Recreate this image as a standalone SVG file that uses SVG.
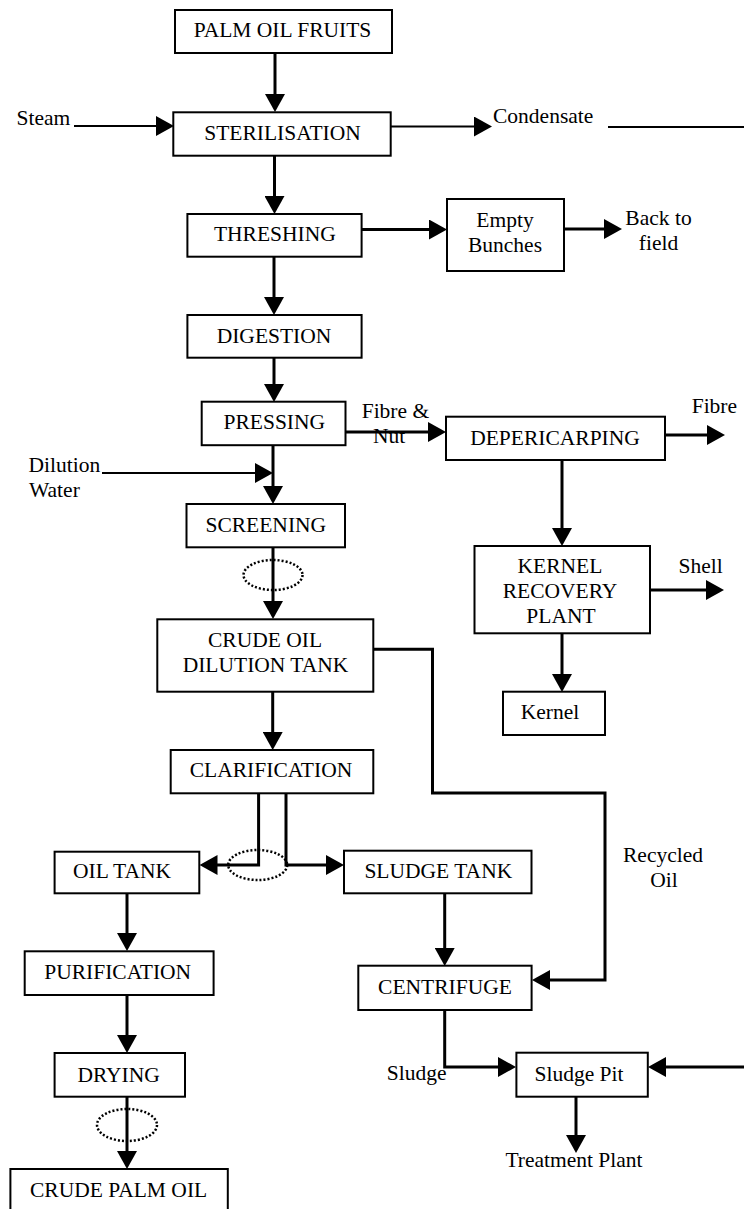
<svg xmlns="http://www.w3.org/2000/svg" width="744" height="1209" viewBox="0 0 744 1209">
<defs>
<marker id="ah" markerUnits="userSpaceOnUse" markerWidth="18" markerHeight="20" refX="14" refY="10" orient="auto">
<path d="M0,0 L18,10 L0,20 z" fill="#000"/>
</marker>
<style>
rect{fill:#fff;stroke:#000;stroke-width:2}
text{font-family:"Liberation Serif","Times New Roman",serif;font-size:21.5px;fill:#000}
.m{text-anchor:middle}
.c{fill:none;stroke:#000;stroke-width:3}
.t{fill:none;stroke:#000;stroke-width:2}
.a{marker-end:url(#ah)}
.d{fill:none;stroke:#000;stroke-width:2.5;stroke-dasharray:2 2}
</style>
</defs>
<rect x="0" y="0" width="744" height="1209" style="fill:#fff;stroke:none"/>
<g id="connectors">
<line class="c a" x1="275" y1="53" x2="275" y2="108"/>
<line class="t a" x1="74" y1="126" x2="170" y2="126"/>
<line class="t a" x1="391" y1="126.5" x2="488" y2="126.5"/>
<line class="t" x1="608" y1="127" x2="744" y2="127"/>
<line class="c a" x1="274.5" y1="156" x2="274.5" y2="210"/>
<line class="c a" x1="362" y1="229.5" x2="443" y2="229.5"/>
<line class="c a" x1="564" y1="229" x2="618" y2="229"/>
<line class="c a" x1="274" y1="257" x2="274" y2="311"/>
<line class="c a" x1="274" y1="358" x2="274" y2="398"/>
<line class="c a" x1="346" y1="432" x2="442" y2="432"/>
<line class="c a" x1="665" y1="435" x2="721" y2="435"/>
<line class="c a" x1="273" y1="445" x2="273" y2="500"/>
<line class="t a" x1="102" y1="473" x2="269" y2="473"/>
<line class="c a" x1="273" y1="547" x2="273" y2="615"/>
<line class="c a" x1="562" y1="460" x2="562" y2="542"/>
<line class="c a" x1="650" y1="590" x2="720" y2="590"/>
<line class="c a" x1="562" y1="633" x2="562" y2="688"/>
<line class="c a" x1="272.7" y1="692" x2="272.7" y2="746"/>
<polyline class="c a" points="373,649.3 432.5,649.3 432.5,793 605,793 605,980 536,980"/>
<polyline class="c a" points="258.6,793 258.6,865 203.5,865"/>
<polyline class="c a" points="286,793 286,865 340,865"/>
<ellipse class="d" cx="273" cy="575" rx="29.5" ry="15"/>
<ellipse class="d" cx="257.7" cy="865" rx="29.5" ry="15"/>
<ellipse class="d" cx="127" cy="1125" rx="30" ry="16"/>
<line class="c a" x1="127" y1="893" x2="127" y2="947"/>
<line class="c a" x1="127" y1="995" x2="127" y2="1049"/>
<line class="c a" x1="127" y1="1097" x2="127" y2="1165"/>
<line class="c a" x1="444.7" y1="893" x2="444.7" y2="962"/>
<polyline class="c a" points="444.7,1010 444.7,1067 512,1067"/>
<line class="c a" x1="744" y1="1067" x2="652" y2="1067"/>
<line class="c a" x1="576" y1="1097" x2="576" y2="1149"/>
</g>
<g id="palm-oil-fruits"><rect x="175" y="10" width="217" height="43"/><text class="m" x="282.5" y="37">PALM OIL FRUITS</text></g>
<g id="steam"><text x="16.6" y="125">Steam</text></g>
<g id="sterilisation"><rect x="173.3" y="112.3" width="217.4" height="43.4"/><text class="m" x="282.5" y="140">STERILISATION</text></g>
<g id="condensate"><text x="493" y="123">Condensate</text></g>
<g id="threshing"><rect x="187.4" y="214" width="174.2" height="42.7"/><text class="m" x="274.8" y="241">THRESHING</text></g>
<g id="empty-bunches"><rect x="447" y="199" width="117" height="72"/><text class="m" x="505" y="226.5">Empty</text><text class="m" x="505" y="251.5">Bunches</text></g>
<g id="back-to-field"><text class="m" x="658.5" y="225">Back to</text><text class="m" x="658.5" y="250">field</text></g>
<g id="digestion"><rect x="187.4" y="315" width="174.2" height="42.7"/><text class="m" x="274" y="342.5">DIGESTION</text></g>
<g id="pressing"><rect x="201.7" y="401.7" width="143.8" height="43.5"/><text class="m" x="274.3" y="428.5">PRESSING</text></g>
<g id="fibre-nut"><text x="361.7" y="418">Fibre &amp;</text><text x="373" y="443">Nut</text></g>
<g id="depericarping"><rect x="446" y="416.7" width="219" height="43.3"/><text class="m" x="555" y="445">DEPERICARPING</text></g>
<g id="fibre"><text x="691.7" y="413">Fibre</text></g>
<g id="dilution-water"><text x="28.5" y="471.5">Dilution</text><text x="29" y="496.5">Water</text></g>
<g id="screening"><rect x="186.5" y="504" width="158.5" height="43.3"/><text class="m" x="265.8" y="531.5">SCREENING</text></g>
<g id="kernel-recovery-plant"><rect x="474.5" y="546" width="175.5" height="87.3"/><text class="m" x="560" y="573">KERNEL</text><text class="m" x="560" y="598">RECOVERY</text><text class="m" x="561" y="623">PLANT</text></g>
<g id="shell"><text x="678.6" y="573">Shell</text></g>
<g id="crude-oil-dilution-tank"><rect x="157.3" y="619.3" width="216" height="72.4"/><text class="m" x="265" y="646.5">CRUDE OIL</text><text class="m" x="265.5" y="672">DILUTION TANK</text></g>
<g id="kernel"><rect x="503" y="691.7" width="102" height="43.3"/><text class="m" x="550" y="719">Kernel</text></g>
<g id="clarification"><rect x="170.7" y="750" width="202.6" height="43.3"/><text class="m" x="271" y="777">CLARIFICATION</text></g>
<g id="oil-tank"><rect x="54.6" y="851.7" width="144.7" height="41.6"/><text class="m" x="122" y="878">OIL TANK</text></g>
<g id="sludge-tank"><rect x="344" y="850.7" width="187.5" height="42.6"/><text class="m" x="438.3" y="878">SLUDGE TANK</text></g>
<g id="recycled-oil"><text class="m" x="663" y="861.5">Recycled</text><text class="m" x="664" y="886.5">Oil</text></g>
<g id="purification"><rect x="24.7" y="951.3" width="188.9" height="43.7"/><text class="m" x="117.7" y="979">PURIFICATION</text></g>
<g id="centrifuge"><rect x="358.3" y="965.7" width="173.3" height="44.3"/><text class="m" x="445" y="994">CENTRIFUGE</text></g>
<g id="drying"><rect x="54.6" y="1053" width="130.4" height="43.7"/><text class="m" x="118.6" y="1081.5">DRYING</text></g>
<g id="sludge"><text x="386.8" y="1080">Sludge</text></g>
<g id="sludge-pit"><rect x="516.4" y="1052.7" width="131.4" height="44"/><text class="m" x="579" y="1080.5">Sludge Pit</text></g>
<g id="treatment-plant"><text class="m" x="574" y="1166.5">Treatment Plant</text></g>
<g id="crude-palm-oil"><rect x="10.4" y="1169" width="217.4" height="50"/><text class="m" x="118.6" y="1197">CRUDE PALM OIL</text></g>
</svg>
